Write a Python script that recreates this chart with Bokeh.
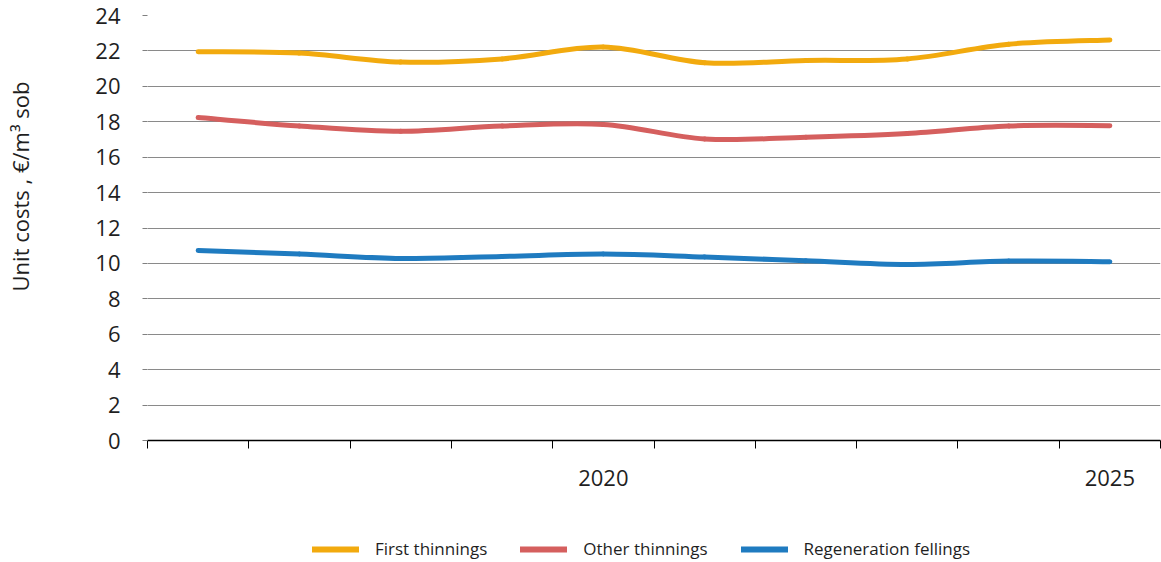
from bokeh.plotting import figure
from bokeh.layouts import row, column
from bokeh.models import ColumnDataSource, FixedTicker, Legend, LegendItem, Label, Range1d
from bokeh.embed import file_html
from bokeh.resources import INLINE
import math

# ---- data ----
years = [2016, 2017, 2018, 2019, 2020, 2021, 2022, 2023, 2024, 2025]
first_thinnings = [21.95, 21.88, 21.37, 21.55, 22.22, 21.33, 21.46, 21.55, 22.38, 22.62]
other_thinnings = [18.24, 17.76, 17.46, 17.76, 17.85, 17.03, 17.13, 17.34, 17.76, 17.78]
regeneration_fellings = [10.73, 10.53, 10.28, 10.39, 10.53, 10.36, 10.15, 9.94, 10.13, 10.10]
x_tick_labels = {2020: "2020", 2025: "2025"}
y_ticks = [0, 2, 4, 6, 8, 10, 12, 14, 16, 18, 20, 22, 24]
series_names = ["First thinnings", "Other thinnings", "Regeneration fellings"]
series_values = [first_thinnings, other_thinnings, regeneration_fellings]
series_colors = ["#F2AA0E", "#D55F5E", "#1F7BC0"]
y_title = "Unit costs , €/m³ sob"

FONT = "Open Sans"
TEXT = "#1f1f1f"

TITLE_W = 40
TOTAL_W = 1161
MAIN_H = 500
LEG_H = 62
FRAME_LEFT = 147  # page px


def smooth_segments(xs, ys):
    """Catmull-Rom style Bezier control points (like Excel's smoothed line)."""
    n = len(xs)
    cols = {k: [] for k in ("x0", "y0", "x1", "y1", "cx0", "cy0", "cx1", "cy1")}
    for i in range(n - 1):
        im1 = max(i - 1, 0)
        ip2 = min(i + 2, n - 1)
        cols["x0"].append(xs[i]); cols["y0"].append(ys[i])
        cols["x1"].append(xs[i + 1]); cols["y1"].append(ys[i + 1])
        cols["cx0"].append(xs[i] + (xs[i + 1] - xs[im1]) / 6.0)
        cols["cy0"].append(ys[i] + (ys[i + 1] - ys[im1]) / 6.0)
        cols["cx1"].append(xs[i + 1] - (xs[ip2] - xs[i]) / 6.0)
        cols["cy1"].append(ys[i + 1] - (ys[ip2] - ys[i]) / 6.0)
    return cols


# ---- y-axis title strip ----
tfig = figure(width=TITLE_W, height=MAIN_H + LEG_H,
              x_range=Range1d(0, TITLE_W), y_range=Range1d(0, MAIN_H + LEG_H),
              x_axis_type=None, y_axis_type=None,
              output_backend="svg", toolbar_location=None,
              min_border=0)
tfig.outline_line_color = None
tfig.add_layout(Label(x=19, y=MAIN_H + LEG_H - 186, text=y_title, angle=math.pi / 2,
                      text_align="center", text_baseline="middle",
                      text_font=FONT, text_font_size="22px", text_color=TEXT))

# ---- main chart ----
p = figure(width=TOTAL_W - TITLE_W, height=MAIN_H,
           x_range=(years[0] - 0.5, years[-1] + 0.5), y_range=(0, 24),
           output_backend="svg", toolbar_location=None,
           min_border_left=FRAME_LEFT - TITLE_W, min_border_right=1,
           min_border_top=15, min_border_bottom=MAIN_H - 440)
p.outline_line_color = None
p.background_fill_color = "white"
p.border_fill_color = "white"

xt = FixedTicker(ticks=list(x_tick_labels.keys()),
                 minor_ticks=[y - 0.5 for y in years] + [years[-1] + 0.5])
p.xaxis.ticker = xt
p.xaxis.major_label_overrides = x_tick_labels
p.xaxis.major_tick_out = 0
p.xaxis.major_tick_in = 0
p.xaxis.minor_tick_out = 8
p.xaxis.minor_tick_in = 0
p.xaxis.minor_tick_line_color = "#000000"
p.xaxis.minor_tick_line_width = 1
p.xaxis.axis_line_color = "#000000"
p.xaxis.axis_line_width = 1.5
p.xaxis.major_label_standoff = 21
p.xaxis.major_label_text_font = FONT
p.xaxis.major_label_text_font_size = "22px"
p.xaxis.major_label_text_color = TEXT
p.xgrid.visible = False

yt = FixedTicker(ticks=y_ticks)
p.yaxis.ticker = yt
p.ygrid.ticker = yt
p.yaxis.axis_line_color = None
p.yaxis.major_tick_out = 5
p.yaxis.major_tick_in = 0
p.yaxis.major_tick_line_color = "#808080"
p.yaxis.minor_tick_line_color = None
p.yaxis.major_label_standoff = 22
p.yaxis.major_label_text_font = FONT
p.yaxis.major_label_text_font_size = "22px"
p.yaxis.major_label_text_color = TEXT
p.ygrid.grid_line_color = "#8a8a8a"
p.ygrid.grid_line_width = 1

for name, vals, color in zip(series_names, series_values, series_colors):
    src = ColumnDataSource(smooth_segments(years, vals))
    p.bezier(x0="x0", y0="y0", x1="x1", y1="y1",
             cx0="cx0", cy0="cy0", cx1="cx1", cy1="cy1",
             source=src, line_color=color, line_width=5, line_cap="round")

# ---- legend strip ----
lfig = figure(width=TOTAL_W - TITLE_W, height=LEG_H,
              x_range=Range1d(0, 1), y_range=Range1d(0, 1),
              x_axis_type=None, y_axis_type=None,
              output_backend="svg", toolbar_location=None, min_border=0)
lfig.outline_line_color = None
items = []
for name, color in zip(series_names, series_colors):
    # placeholder renderer (draws nothing) that carries the legend swatch style
    r = lfig.line(x="x", y="y", source=ColumnDataSource(dict(x=[float("nan")], y=[float("nan")])),
                  line_color=color, line_width=6, line_cap="round")
    items.append(LegendItem(label=name, renderers=[r]))
legend = Legend(items=items, orientation="horizontal", location=(312 - FRAME_LEFT, 2),
                padding=0, margin=0, spacing=33, label_standoff=16,
                glyph_width=47, glyph_height=20, label_height=20,
                label_text_font=FONT, label_text_font_size="17px",
                label_text_color=TEXT,
                border_line_color=None, background_fill_alpha=0)
lfig.add_layout(legend)

layout = row(tfig, column(p, lfig))
open("out.html", "w").write(file_html(layout, INLINE))
